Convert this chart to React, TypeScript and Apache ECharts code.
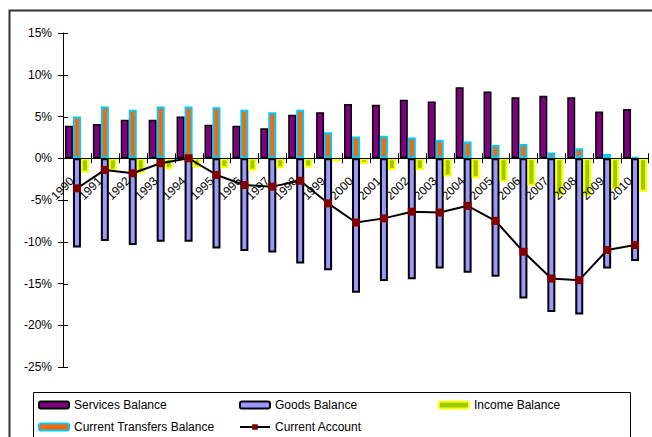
import React, { useEffect, useRef } from "react";
import * as echarts from "echarts";

const years = ["1990","1991","1992","1993","1994","1995","1996","1997","1998","1999","2000","2001","2002","2003","2004","2005","2006","2007","2008","2009","2010"];
const servicesBalance = [3.9,4.1,4.6,4.6,5.0,4.0,3.9,3.6,5.2,5.5,6.5,6.4,7.0,6.8,8.5,8.0,7.3,7.5,7.3,5.6,5.9];
const goodsBalance = [-10.7,-9.9,-10.4,-10.0,-10.0,-10.8,-11.1,-11.3,-12.6,-13.4,-16.1,-14.7,-14.5,-13.2,-13.7,-14.2,-16.8,-18.4,-18.7,-13.2,-12.3];
const incomeBalance = [-1.7,-1.5,-1.8,-1.3,-1.1,-1.2,-1.5,-1.2,-1.1,-0.4,-0.7,-1.4,-1.4,-2.2,-2.4,-2.8,-3.3,-4.5,-4.5,-3.7,-4.0];
const transfersBalance = [5.0,6.2,5.8,6.2,6.2,6.1,5.8,5.5,5.8,3.1,2.6,2.7,2.5,2.2,2.0,1.6,1.7,0.7,1.2,0.5,0.1];
const currentAccount = [-3.6,-1.4,-1.8,-0.6,0.0,-2.0,-3.2,-3.4,-2.7,-5.4,-7.7,-7.2,-6.4,-6.5,-5.7,-7.5,-11.2,-14.4,-14.6,-11.0,-10.4];
const yTicks = [-25, -20, -15, -10, -5, 0, 5, 10, 15];

const FONT = "'Liberation Sans', Arial, sans-serif";

export default function App() {
  const ref = useRef<HTMLDivElement>(null);
  useEffect(() => {
    if (!ref.current) return;
    document.documentElement.style.overflow = "hidden";
    document.body.style.overflow = "hidden";
    document.body.style.margin = "0";
    const chart = echarts.init(ref.current, null, { renderer: "svg" });
    const legendText = { fontFamily: FONT, fontSize: 12, color: "#000" };
    const mkLegend = (name: string, left: number, top: number) => ({
      data: [name],
      left,
      top,
      orient: "horizontal",
      itemWidth: 30,
      itemHeight: 7,
      padding: 0,
      textStyle: legendText,
      selectedMode: false,
    });
    const n = years.length;
    chart.setOption({
      animation: false,
      backgroundColor: "#fff",
      grid: { left: 63, right: 3, top: 33, bottom: 70, containLabel: false },
      graphic: [
        { type: "polyline", shape: { points: [[9.5, 440], [9.5, 10.5], [655, 10.5]] }, style: { fill: "none", stroke: "#333", lineWidth: 2 }, silent: true },
        { type: "polyline", shape: { points: [[33.5, 440], [33.5, 392.5], [630.5, 392.5], [630.5, 440]] }, style: { fill: "none", stroke: "#000", lineWidth: 1 }, silent: true },
      ],
      legend: [
        mkLegend("Services Balance", 38, 399),
        mkLegend("Goods Balance", 239, 399),
        mkLegend("Income Balance", 438, 399),
        mkLegend("Current Transfers Balance", 38, 421),
        mkLegend("Current Account", 239, 421),
      ],
      xAxis: {
        type: "category",
        data: years,
        position: "bottom",
        z: 10,
        axisLine: { show: false, onZero: false },
        axisTick: { show: false },
        axisLabel: { rotate: 45, fontFamily: FONT, fontSize: 12, color: "#000", margin: -193, padding: [0, 7, 0, 0], interval: 0 },
      },
      yAxis: {
        type: "value",
        min: -25,
        max: 15,
        interval: 5,
        position: "left",
        splitLine: { show: false },
        axisLine: { show: true, lineStyle: { color: "#000", width: 1 } },
        axisTick: { show: true, inside: false, length: 5, lineStyle: { color: "#000" } },
        axisLabel: { formatter: "{value}%", fontFamily: FONT, fontSize: 12, color: "#000", margin: 11 },
      },
      series: [
        {
          name: "Services Balance",
          type: "bar",
          stack: "s",
          data: servicesBalance,
          barWidth: 8,
          barGap: "0%",
          itemStyle: { color: "#800080", borderColor: "#000", borderWidth: 1.5 },
        },
        {
          name: "Goods Balance",
          type: "bar",
          stack: "gt",
          data: goodsBalance,
          barWidth: 8,
          barGap: "0%",
          itemStyle: { color: "#9999FF", borderColor: "#000", borderWidth: 2 },
        },
        {
          name: "Income Balance",
          type: "bar",
          stack: "i",
          data: incomeBalance,
          barWidth: 8,
          barGap: "0%",
          itemStyle: { color: "#99CC00", borderColor: "#FFFF00", borderWidth: 2 },
        },
        {
          name: "Current Transfers Balance",
          type: "bar",
          stack: "gt",
          data: transfersBalance,
          barWidth: 8,
          barGap: "0%",
          itemStyle: { color: "#FF6600", borderColor: "#00CCFF", borderWidth: 2 },
        },
        {
          name: "Category axis at zero",
          type: "custom",
          z: 4,
          silent: true,
          clip: false,
          data: years.map((_, i) => [i, 0]),
          encode: { x: 0, y: 1 },
          renderItem: (params: any, api: any) => {
            const i = api.value(0);
            const p = api.coord([i, 0]);
            const bw = api.size([1, 0])[0];
            const cs = params.coordSys;
            const children: any[] = [];
            const tickStyle = { stroke: "#000", lineWidth: 1 };
            const x0 = Math.round(p[0] - bw / 2) + 0.5;
            children.push({ type: "line", shape: { x1: x0, y1: p[1] - 5, x2: x0, y2: p[1] + 5 }, style: tickStyle });
            if (i === n - 1) {
              const x1 = Math.round(p[0] + bw / 2) - 0.5;
              children.push({ type: "line", shape: { x1, y1: p[1] - 5, x2: x1, y2: p[1] + 5 }, style: tickStyle });
            }
            if (i === 0) {
              const y = Math.round(p[1]) + 0.5;
              children.push({ type: "line", shape: { x1: cs.x, y1: y, x2: cs.x + cs.width, y2: y }, style: { stroke: "#000", lineWidth: 1 } });
            }
            return { type: "group", children };
          },
        },
        {
          name: "Value axis inner ticks",
          type: "custom",
          z: 4,
          silent: true,
          clip: false,
          data: yTicks.map((v) => [0, v]),
          encode: { x: 0, y: 1 },
          renderItem: (params: any, api: any) => {
            const p = api.coord([0, api.value(1)]);
            const cs = params.coordSys;
            const y = Math.round(p[1]) + 0.5;
            return { type: "line", shape: { x1: cs.x, y1: y, x2: cs.x + 5, y2: y }, style: { stroke: "#000", lineWidth: 1 } };
          },
        },
        {
          name: "Current Account",
          type: "line",
          data: currentAccount,
          symbol: "rect",
          symbolSize: 8,
          z: 5,
          lineStyle: { color: "#000", width: 2 },
          itemStyle: { color: "#800000" },
        },
      ],
    });
    return () => chart.dispose();
  }, []);
  return (
    <div
      ref={ref}
      style={{ position: "fixed", left: 0, top: 0, width: 652, height: 437, background: "#fff", overflow: "hidden" }}
    />
  );
}
